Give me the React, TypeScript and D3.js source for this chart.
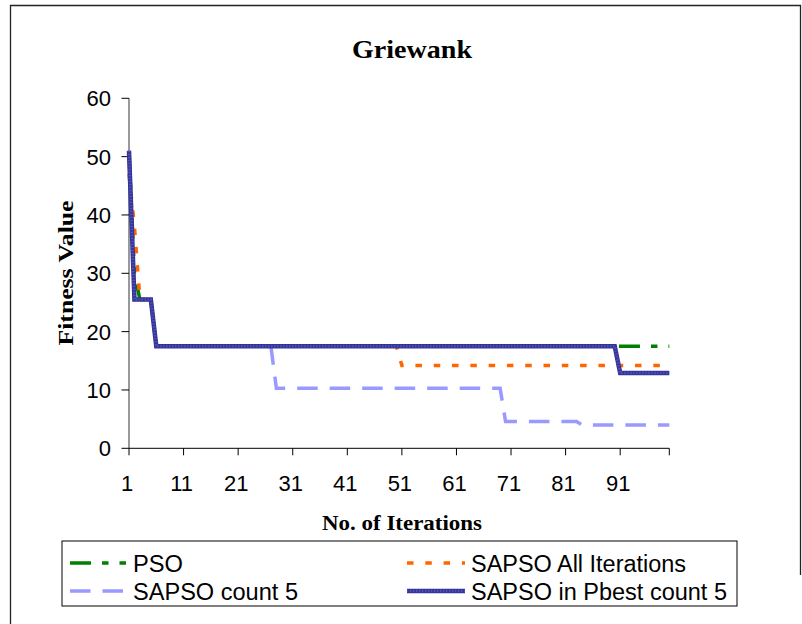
import React, { useRef, useEffect } from "react";
import * as d3 from "d3";

// iteration / value breakpoints (steps between them are flat)
const psoIter = [1, 2, 3, 5, 6, 100];
const psoVal = [51, 30, 25.5, 25.5, 17.5, 17.5];

const allIter = [1, 2, 3, 5, 6, 50, 51, 100];
const allVal = [47, 38, 25.5, 25.5, 17.5, 17.5, 14.2, 14.2];

const count5Iter = [1, 2, 5, 6, 27, 28, 69, 70, 83, 84, 100];
const count5Val = [51, 25.5, 25.5, 17.5, 17.5, 10.3, 10.3, 4.6, 4.6, 4.0, 4.0];

const pbestIter = [1, 2, 5, 6, 90, 91, 100];
const pbestVal = [51, 25.5, 25.5, 17.5, 17.5, 12.9, 12.9];

const xTicks = [1, 11, 21, 31, 41, 51, 61, 71, 81, 91];
const yTicks = [0, 10, 20, 30, 40, 50, 60];

const W = 802;
const H = 624;

const App = () => {
  const ref = useRef<SVGSVGElement | null>(null);

  useEffect(() => {
    if (!ref.current) return;
    const svg = d3.select(ref.current);
    svg.selectAll("*").remove();

    const x = d3.scaleLinear().domain([1, 100]).range([129, 669.3]);
    const y = d3.scaleLinear().domain([0, 60]).range([448.3, 98.3]);

    // outer chart border
    svg
      .append("path")
      .attr("d", "M10.5,624V5.5H800.5V575")
      .attr("fill", "none")
      .attr("stroke", "#222")
      .attr("stroke-width", 1.3);

    // title
    svg
      .append("text")
      .attr("x", 412)
      .attr("y", 58)
      .attr("text-anchor", "middle")
      .attr("font-family", "Liberation Serif, Times New Roman, serif")
      .attr("font-weight", "bold")
      .attr("font-size", 26)
      .attr("textLength", 120)
      .attr("lengthAdjust", "spacingAndGlyphs")
      .text("Griewank");

    // y axis
    svg
      .append("line")
      .attr("x1", 129)
      .attr("x2", 129)
      .attr("y1", y(60))
      .attr("y2", y(0))
      .attr("stroke", "#777")
      .attr("stroke-width", 1.5);

    yTicks.forEach((t) => {
      svg
        .append("line")
        .attr("x1", 121.5)
        .attr("x2", 129)
        .attr("y1", y(t))
        .attr("y2", y(t))
        .attr("stroke", "#000");
      svg
        .append("text")
        .attr("x", 111)
        .attr("y", y(t) + 8)
        .attr("text-anchor", "end")
        .attr("font-family", "Liberation Sans, Arial, sans-serif")
        .attr("font-size", 22)
        .text(t);
    });

    // x axis
    svg
      .append("line")
      .attr("x1", x(1))
      .attr("x2", x(100))
      .attr("y1", y(0))
      .attr("y2", y(0))
      .attr("stroke", "#000");

    [...xTicks, 100].forEach((t) => {
      svg
        .append("line")
        .attr("x1", x(t))
        .attr("x2", x(t))
        .attr("y1", y(0))
        .attr("y2", y(0) + 7)
        .attr("stroke", "#000");
    });

    xTicks.forEach((t) => {
      svg
        .append("text")
        .attr("x", x(t) - 2)
        .attr("y", 491)
        .attr("text-anchor", "middle")
        .attr("font-family", "Liberation Sans, Arial, sans-serif")
        .attr("font-size", 22)
        .text(t);
    });

    // axis titles
    svg
      .append("text")
      .attr("x", 402)
      .attr("y", 530)
      .attr("text-anchor", "middle")
      .attr("font-family", "Liberation Serif, Times New Roman, serif")
      .attr("font-weight", "bold")
      .attr("font-size", 22)
      .attr("textLength", 160)
      .attr("lengthAdjust", "spacingAndGlyphs")
      .text("No. of Iterations");

    svg
      .append("text")
      .attr("transform", "translate(73,273) rotate(-90)")
      .attr("text-anchor", "middle")
      .attr("font-family", "Liberation Serif, Times New Roman, serif")
      .attr("font-weight", "bold")
      .attr("font-size", 22)
      .attr("textLength", 145)
      .attr("lengthAdjust", "spacingAndGlyphs")
      .text("Fitness Value");

    const line = d3
      .line<[number, number]>()
      .x((d) => x(d[0]))
      .y((d) => y(d[1]));

    const zip = (a: number[], b: number[]) =>
      a.map((v, i) => [v, b[i]] as [number, number]);

    const series = [
      { name: "PSO", pts: zip(psoIter, psoVal), color: "#008000", dash: "21,11,6.5,11,6.5,11", w: 3.5 },
      { name: "SAPSO All Iterations", pts: zip(allIter, allVal), color: "#FF6600", dash: "6.5,11.8", w: 3.5 },
      { name: "SAPSO count 5", pts: zip(count5Iter, count5Val), color: "#9999FF", dash: "20.5,12", w: 3.5 },
      { name: "SAPSO in Pbest count 5", pts: zip(pbestIter, pbestVal), color: "#333399", dash: null, w: 4.5 },
    ];

    const drawStroke = (
      sel: d3.Selection<SVGSVGElement, unknown, null, undefined>,
      d: string,
      s: (typeof series)[number]
    ) => {
      const p = sel
        .append("path")
        .attr("d", d)
        .attr("fill", "none")
        .attr("stroke", s.color)
        .attr("stroke-width", s.w);
      if (s.dash) p.attr("stroke-dasharray", s.dash);
      else {
        // striped look of the thick navy line
        sel
          .append("path")
          .attr("d", d)
          .attr("fill", "none")
          .attr("stroke", "#5252B5")
          .attr("stroke-width", 2.6)
          .attr("stroke-dasharray", "1.4,1.6");
      }
    };

    series.forEach((s) => drawStroke(svg, line(s.pts) || "", s));

    // legend
    svg
      .append("rect")
      .attr("x", 62)
      .attr("y", 541)
      .attr("width", 675)
      .attr("height", 65)
      .attr("fill", "#fff")
      .attr("stroke", "#000");

    const legendPos = [
      { lx: 70, tx: 133, ly: 563, tw: 50 },
      { lx: 407, tx: 471, ly: 563, tw: 215 },
      { lx: 70, tx: 133, ly: 591, tw: 165 },
      { lx: 407, tx: 471, ly: 591, tw: 256 },
    ];

    series.forEach((s, i) => {
      const p = legendPos[i];
      drawStroke(svg, `M${p.lx},${p.ly}H${p.lx + 58}`, s);
      svg
        .append("text")
        .attr("x", p.tx)
        .attr("y", p.ly + 8.5)
        .attr("font-family", "Liberation Sans, Arial, sans-serif")
        .attr("font-size", 23)
        .attr("textLength", p.tw)
        .attr("lengthAdjust", "spacingAndGlyphs")
        .text(s.name);
    });
  }, []);

  return (
    <svg
      ref={ref}
      width={W}
      height={H}
      viewBox={`0 0 ${W} ${H}`}
      style={{ position: "absolute", left: 0, top: 0, background: "#fff" }}
    />
  );
};

export default App;
